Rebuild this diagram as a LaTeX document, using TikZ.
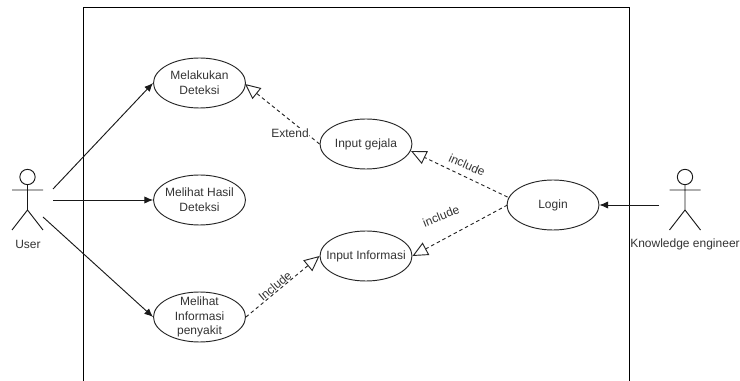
\documentclass[tikz,border=0pt]{standalone}
\usepackage{fontspec}
\setmainfont{Liberation Sans}
\usetikzlibrary{arrows.meta,shapes.geometric}
\tikzset{
  x=0.75pt,y=-0.75pt,
  usecase/.style={draw=black!85,line width=0.7pt,ellipse,minimum width=69pt,minimum height=37.5pt,inner sep=0pt},
  uctext/.style={align=center,font=\fontsize{9}{11.1}\selectfont,text=black!80,inner sep=0pt},
  lbl/.style={font=\fontsize{9}{10}\selectfont,text=black!80,inner sep=0.5pt},
  limb/.style={draw=black!90,line width=0.7pt},
  assoc/.style={draw=black!90,line width=0.7pt,-{Latex[length=6.5pt,width=5.5pt]}},
  dep/.style={draw=black!85,line width=0.7pt,dash pattern=on 2.6pt off 2.2pt,-{Triangle[open,fill=white,length=11.5pt,width=10.5pt,line width=0.7pt]}},
  frameline/.style={draw=black,line width=0.7pt}
}
\begin{document}
\begin{tikzpicture}
\useasboundingbox (0,0) rectangle (740,381);
\coordinate (fbl) at (83,381);
\coordinate (ftl) at (83,7.5);
\coordinate (ftr) at (629.5,7.5);
\coordinate (fbr) at (629.5,381);
\draw[frameline] (fbl) -- (ftl) -- (ftr) -- (fbr);

\node[usecase,label={[uctext]center:Melakukan\\Deteksi}] (deteksi) at (199.5,83) {};
\node[usecase,label={[uctext]center:Melihat Hasil\\Deteksi}] (hasil) at (199.5,200) {};
\node[usecase,label={[uctext]center:Melihat\\Informasi\\penyakit}] (penyakit) at (199.5,317) {};
\node[usecase,label={[uctext]center:Input gejala}] (gejala) at (366,144) {};
\node[usecase,label={[uctext]center:Input Informasi}] (informasi) at (366,256) {};
\node[usecase,label={[uctext]center:Login}] (login) at (553,205) {};

% User actor
\node[limb,draw,circle,minimum size=11.5pt,inner sep=0pt] (uhead) at (27.5,177) {};
\coordinate (uhip) at (27.5,210);
\coordinate (uarml) at (12,190);
\coordinate (uarmr) at (43,190);
\coordinate (ulegl) at (12,230);
\coordinate (ulegr) at (43,230);
\draw[limb] (uhead) -- (uhip) (uarml) -- (uarmr) (ulegl) -- (uhip) -- (ulegr);
\node[lbl] (ulabel) at (28,244) {User};

% Knowledge engineer actor
\node[limb,draw,circle,minimum size=11.5pt,inner sep=0pt] (khead) at (685,177) {};
\coordinate (khip) at (685,210);
\coordinate (karml) at (669.5,190);
\coordinate (karmr) at (700.5,190);
\coordinate (klegl) at (669.5,230);
\coordinate (klegr) at (700.5,230);
\draw[limb] (khead) -- (khip) (karml) -- (karmr) (klegl) -- (khip) -- (klegr);
\node[lbl] (klabel) at (685,244) {Knowledge engineer};

% Associations
\coordinate (u1) at (53,189);
\coordinate (u2) at (53,200);
\coordinate (u3) at (43,217);
\coordinate (k1) at (659,205);
\draw[assoc] (u1) -- (deteksi.west);
\draw[assoc] (u2) -- (hasil.west);
\draw[assoc] (u3) -- (penyakit.west);
\draw[assoc] (k1) -- (login.east);

% Dependencies
\coordinate (g1) at (245,84);
\coordinate (l1) at (507.5,197);
\coordinate (l2) at (507.5,205);
\coordinate (g2) at (411,151);
\draw[dep] (gejala.west) -- (g1);
\draw[dep] (l1) -- (g2);
\draw[dep] (l2) -- (informasi.east);
\draw[dep] (penyakit.east) -- (informasi.west);

% Labels
\node[lbl,fill=white] (extendlbl) at (290,133) {Extend};
\node[lbl,rotate=-24] (inc1) at (467,165) {include};
\node[lbl,rotate=22] (inc2) at (441,216) {include};
\node[lbl,rotate=40] (inc3) at (275,286) {Include};
\end{tikzpicture}
\end{document}
